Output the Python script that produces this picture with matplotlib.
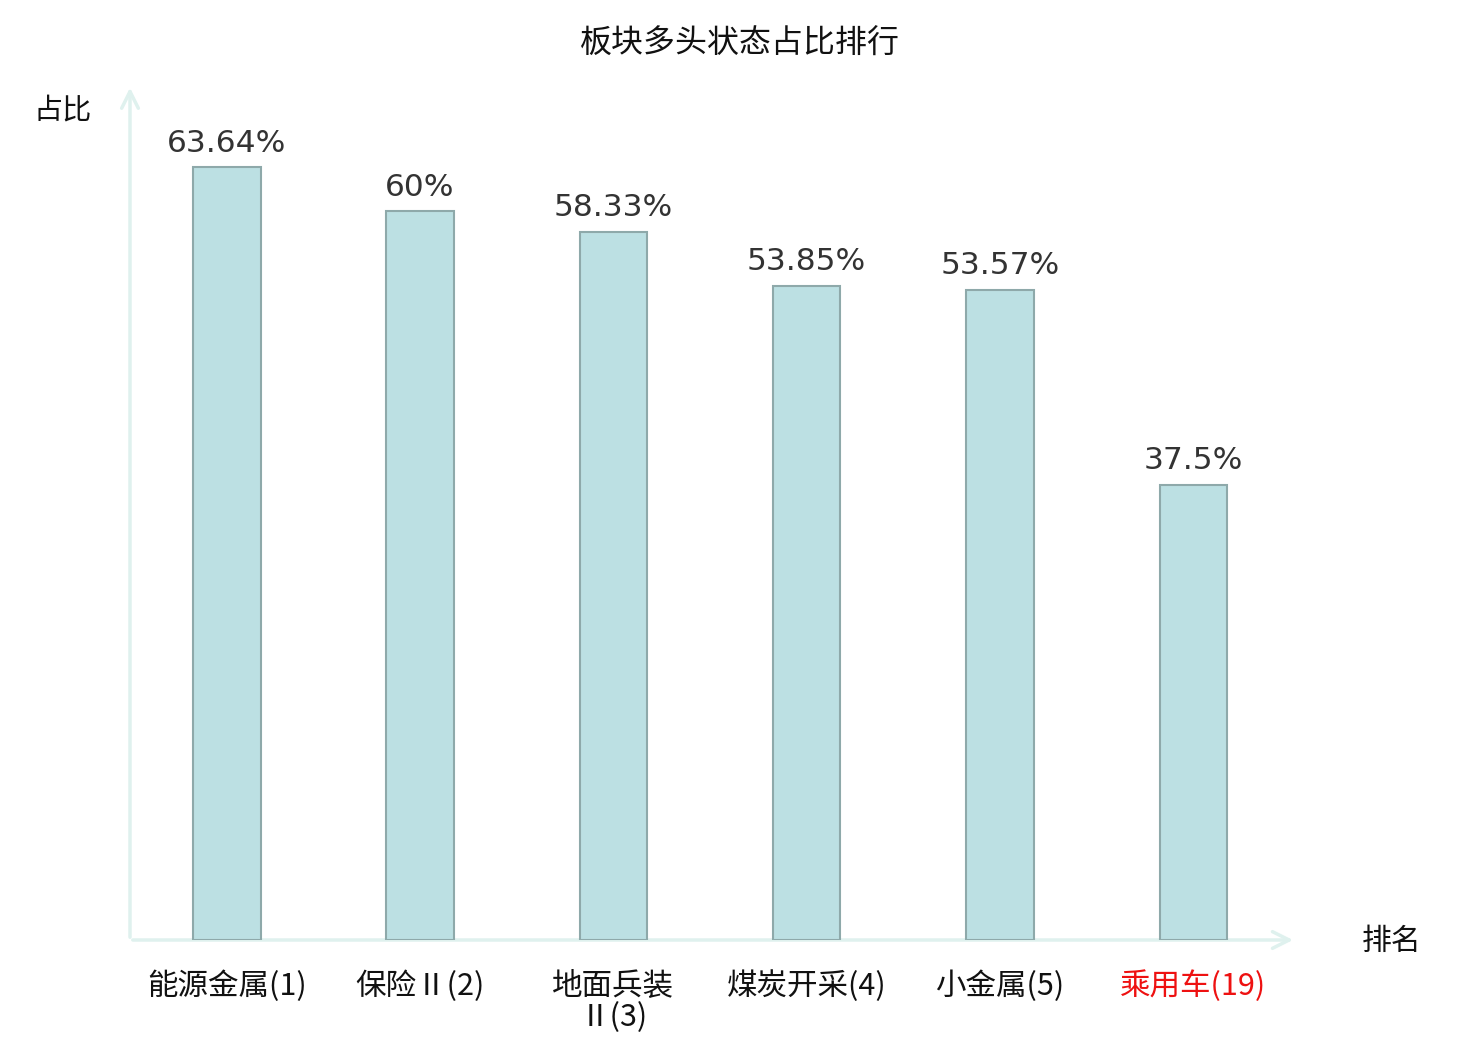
import matplotlib.pyplot as plt

plt.rcParams['font.family'] = ['Noto Sans CJK SC', 'DejaVu Sans']

# data
categories = ['能源金属(1)', '保险Ⅱ(2)', '地面兵装\nⅡ(3)', '煤炭开采(4)', '小金属(5)', '乘用车(19)']
values = [63.64, 60, 58.33, 53.85, 53.57, 37.5]
value_labels = ['63.64%', '60%', '58.33%', '53.85%', '53.57%', '37.5%']
label_colors = ['#111111'] * 5 + ['#ee1111']

fig = plt.figure(figsize=(14.8, 10.4), dpi=100)
ax = fig.add_axes([130 / 1480, 100 / 1040, 1160 / 1480, 850 / 1040])

x = list(range(len(categories)))
ax.bar(x, values, width=0.35, color='#bce0e3', edgecolor='#8ea9aa', linewidth=1.5, zorder=2)

for xi, v, lab in zip(x, values, value_labels):
    ax.annotate(lab, (xi, v), xytext=(0, 7), textcoords='offset points',
                ha='center', va='bottom', fontsize=22.5, color='#333333',
                family='DejaVu Sans')

ax.set_xlim(-0.5, 5.5)
ax.set_ylim(0, 70)
for s in ax.spines.values():
    s.set_visible(False)
ax.set_yticks([])
ax.set_xticks(x)
ax.set_xticklabels(categories, fontsize=22, va='top', linespacing=1.0)
for t, c in zip(ax.get_xticklabels(), label_colors):
    t.set_color(c)
ax.tick_params(axis='x', length=0, pad=22)

axis_color = '#dff1ee'
ax.annotate('', xy=(1.005, 0), xytext=(0, 0), xycoords='axes fraction',
            arrowprops=dict(arrowstyle='->', color=axis_color, lw=2.5,
                            mutation_scale=30), zorder=1)
ax.annotate('', xy=(0, 1.006), xytext=(0, 0), xycoords='axes fraction',
            arrowprops=dict(arrowstyle='->', color=axis_color, lw=2.5,
                            mutation_scale=30), zorder=1)

fig.text(63 / 1480, 1 - 110 / 1040, '占比', fontsize=21, ha='center', va='center', color='#111111')
fig.text(1392 / 1480, 1 - 941 / 1040, '排名', fontsize=21.5, ha='center', va='center', color='#111111')
fig.text(740 / 1480, 1 - 44 / 1040, '板块多头状态占比排行', fontsize=23, ha='center', va='center', color='#111111')

fig.savefig('out.png', dpi=100)
